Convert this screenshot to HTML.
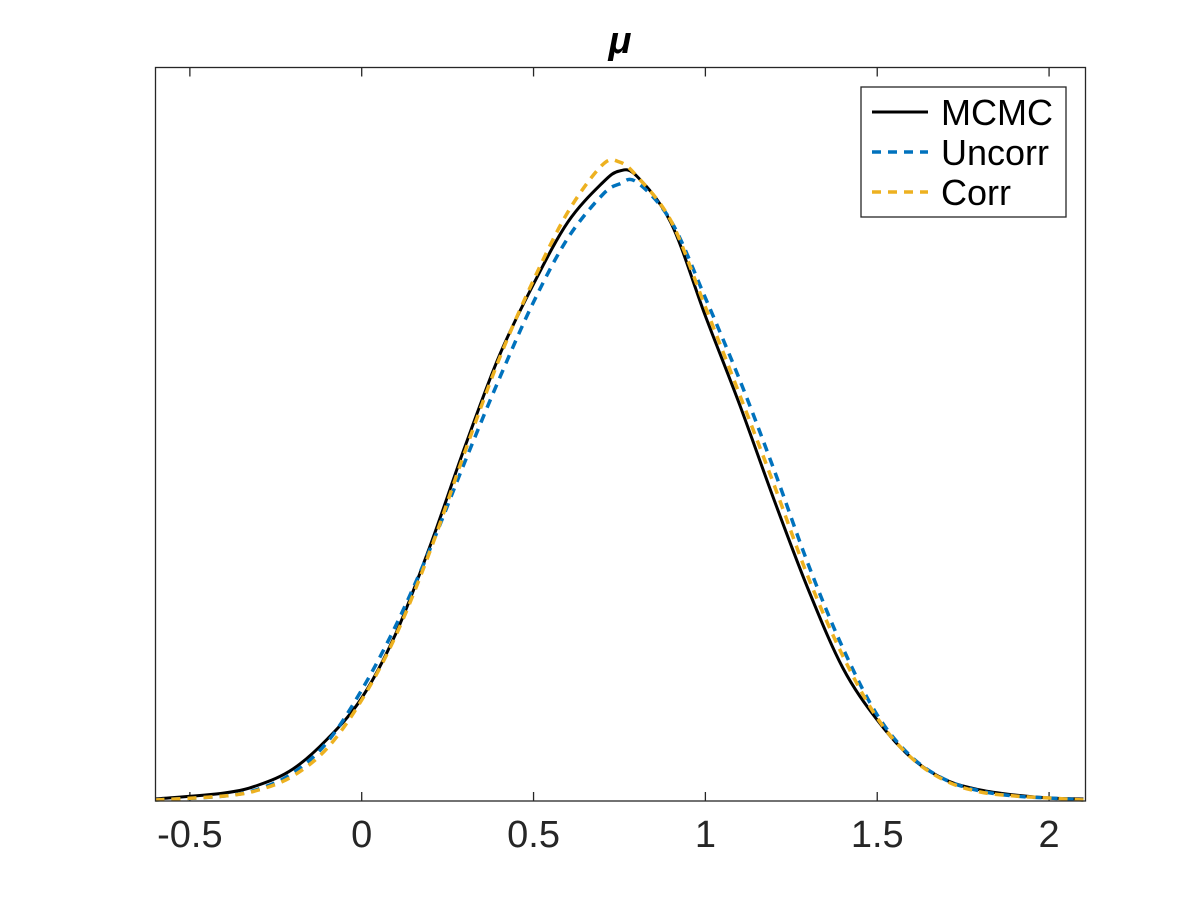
<!DOCTYPE html>
<html><head><meta charset="utf-8">
<style>
html,body{margin:0;padding:0;background:#fff;}
svg{display:block;}
text{font-family:"Liberation Sans",sans-serif;}
</style></head>
<body>
<svg id="chart" width="1200" height="900" viewBox="0 0 1200 900" xmlns="http://www.w3.org/2000/svg">
<rect x="0" y="0" width="1200" height="900" fill="#fff"/>
<text x="620" y="53" text-anchor="middle" font-size="38" font-weight="bold" font-style="italic" fill="#000">μ</text>
<g id="ticks"></g>
<g id="series"></g>
<rect x="155.5" y="67.5" width="930" height="733.5" fill="none" stroke="#262626" stroke-width="1.3"/>
<g>
<rect x="861" y="87" width="205" height="130" fill="#fff" stroke="#262626" stroke-width="1.3"/>
<line x1="872" y1="112" x2="928" y2="112" stroke="#000" stroke-width="3"/>
<text x="941" y="125" font-size="36" fill="#000">MCMC</text>
<line x1="872" y1="152" x2="928" y2="152" stroke="#0072BD" stroke-width="3.5" stroke-dasharray="9,7"/>
<text x="941" y="165" font-size="36" fill="#000">Uncorr</text>
<line x1="872" y1="192" x2="928" y2="192" stroke="#EDB120" stroke-width="3.5" stroke-dasharray="9,7"/>
<text x="941" y="205" font-size="36" fill="#000">Corr</text>
</g>
</svg>
<script>
const xTicks=[-0.5,0,0.5,1,1.5,2];
const xTickLabels=["-0.5","0","0.5","1","1.5","2"];
const xGrid=[-0.6,-0.4,-0.3,-0.2,-0.1,0,0.1,0.2,0.3,0.4,0.5,0.6,0.7,0.75,0.8,0.9,1.0,1.1,1.2,1.3,1.4,1.5,1.6,1.7,1.8,1.9,2.0,2.1];
const mcmc=[2,8,16,32,62,103,168,256,354,445,517,579,618,630,625,578,485,396,301,211,133,81,43,21,11,6,3,2];
const uncorr=[1,5,12,28,59,111,176,253,339,422,499,563,606,617,619,580,503,421,331,236,153,86,44,21,10,5,3,1];
const corr=[1,5,11,25,53,101,166,251,349,442,521,589,636,639,625,580,494,406,316,223,145,83,43,20,9,5,3,1];
const X0=-0.6,X1=2.106,PX0=155.5,PX1=1085.5,YMAX=733.5,PY0=801,PY1=67.5;
function sx(v){return PX0+(v-X0)/(X1-X0)*(PX1-PX0);}
function sy(v){return PY0-v/YMAX*(PY0-PY1);}
const NS="http://www.w3.org/2000/svg";
const tg=document.getElementById('ticks');
xTicks.forEach((t,i)=>{
  const x=sx(t);
  const l1=document.createElementNS(NS,'line');
  l1.setAttribute('x1',x);l1.setAttribute('x2',x);l1.setAttribute('y1',801);l1.setAttribute('y2',792);
  l1.setAttribute('stroke','#262626');l1.setAttribute('stroke-width','1.3');
  
  
  tg.appendChild(l1);
  const l2=document.createElementNS(NS,'line');
  l2.setAttribute('x1',x);l2.setAttribute('x2',x);l2.setAttribute('y1',67.5);l2.setAttribute('y2',76.5);
  l2.setAttribute('stroke','#262626');l2.setAttribute('stroke-width','1.3');
  
  
  tg.appendChild(l2);
  const tx=document.createElementNS(NS,'text');
  tx.setAttribute('x',x);tx.setAttribute('y',847);tx.setAttribute('text-anchor','middle');
  tx.setAttribute('font-size','38');tx.setAttribute('fill','#262626');
  tx.textContent=xTickLabels[i];
  
  
  tg.appendChild(tx);
});
function pathFor(vals){
  const p=xGrid.map((x,i)=>[sx(x),sy(vals[i])]);
  let d='M'+p[0][0]+','+p[0][1];
  for(let i=0;i<p.length-1;i++){
    const a=p[Math.max(0,i-1)],b=p[i],c=p[i+1],e=p[Math.min(p.length-1,i+2)];
    const c1x=b[0]+(c[0]-a[0])/6,c1y=b[1]+(c[1]-a[1])/6;
    const c2x=c[0]-(e[0]-b[0])/6,c2y=c[1]-(e[1]-b[1])/6;
    d+=' C'+c1x+','+c1y+' '+c2x+','+c2y+' '+c[0]+','+c[1];
  }
  return d;
}
const sg=document.getElementById('series');
[[mcmc,'#000','','line-mcmc',3],[uncorr,'#0072BD','9,7','line-uncorr',3.5],[corr,'#EDB120','9,7','line-corr',3.5]].forEach(s=>{
  const pa=document.createElementNS(NS,'path');
  pa.setAttribute('d',pathFor(s[0]));pa.setAttribute('fill','none');
  pa.setAttribute('stroke',s[1]);pa.setAttribute('stroke-width',s[4]);
  if(s[2])pa.setAttribute('stroke-dasharray',s[2]);
  
  
  sg.appendChild(pa);
});
</script>
</body></html>
